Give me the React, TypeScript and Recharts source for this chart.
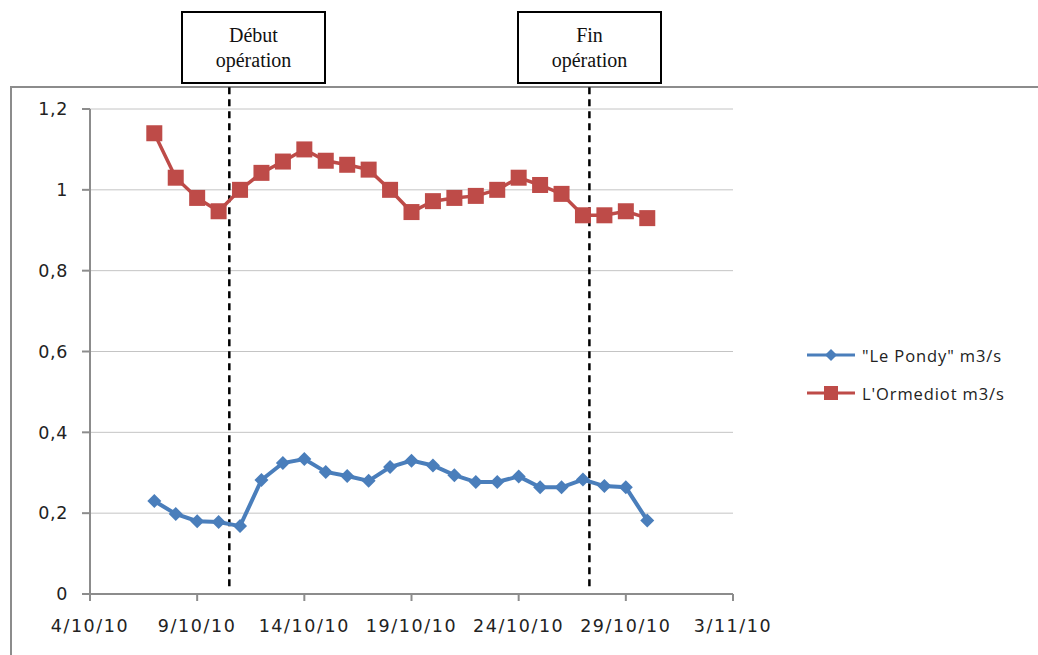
import { CartesianGrid, Line, LineChart, ReferenceLine, XAxis, YAxis } from 'recharts'

// relevés journaliers, octobre 2010
const dates = [
	'7/10/10', '8/10/10', '9/10/10', '10/10/10', '11/10/10', '12/10/10', '13/10/10', '14/10/10',
	'15/10/10', '16/10/10', '17/10/10', '18/10/10', '19/10/10', '20/10/10', '21/10/10', '22/10/10',
	'23/10/10', '24/10/10', '25/10/10', '26/10/10', '27/10/10', '28/10/10', '29/10/10', '30/10/10',
]

const pondy = [
	0.23, 0.198, 0.18, 0.178, 0.168, 0.282, 0.324, 0.334, 0.302, 0.292, 0.28, 0.314,
	0.33, 0.318, 0.294, 0.277, 0.277, 0.291, 0.264, 0.264, 0.283, 0.267, 0.264, 0.182,
]

const ormediot = [
	1.14, 1.03, 0.98, 0.947, 1.0, 1.042, 1.07, 1.1, 1.072, 1.062, 1.05, 1.0,
	0.945, 0.972, 0.98, 0.985, 1.0, 1.03, 1.012, 0.99, 0.937, 0.937, 0.947, 0.93,
]

const xTickLabels = ['4/10/10', '9/10/10', '14/10/10', '19/10/10', '24/10/10', '29/10/10', '3/11/10']
const yTicks = [0, 0.2, 0.4, 0.6, 0.8, 1, 1.2]

// jours depuis le 4/10/10 (début / fin de l'opération)
const debutOperation = 6.5
const finOperation = 23.3

const BLUE = '#4a7ebb'
const RED = '#be4b48'
const AXIS = '#8c8c8c'
const TICK_FONT = '"DejaVu Sans", Verdana, sans-serif'

const origin = Date.UTC(2010, 9, 4)
const toDay = (s: string) => {
	const [d, m, y] = s.split('/').map(Number)
	return Math.round((Date.UTC(2000 + y, m - 1, d) - origin) / 86400000)
}

const xTicks = xTickLabels.map(toDay)
const labelByDay = new Map(xTickLabels.map((l) => [toDay(l), l]))

const data = dates.map((d, i) => ({
	day: toDay(d),
	pondy: pondy[i],
	ormediot: ormediot[i],
}))

const Diamond = (props: any) => {
	const { cx, cy } = props
	if (cx == null || cy == null) return null
	const r = 7
	return <polygon points={`${cx},${cy - r} ${cx + r},${cy} ${cx},${cy + r} ${cx - r},${cy}`} fill={BLUE} />
}

const Square = (props: any) => {
	const { cx, cy } = props
	if (cx == null || cy == null) return null
	const s = 16
	return <rect x={cx - s / 2} y={cy - s / 2} width={s} height={s} fill={RED} />
}

const fmtY = (v: number) => String(Math.round(v * 10) / 10).replace('.', ',')

const legendItems = [
	{ name: '"Le Pondy" m3/s', color: BLUE, marker: 'diamond' },
	{ name: "L'Ormediot m3/s", color: RED, marker: 'square' },
]

const ChartLegend = () => (
	<div
		style={{
			position: 'absolute',
			left: 805,
			top: 336,
			fontFamily: '"Open Sans", sans-serif',
			fontSize: 16.5,
			color: '#222',
		}}
	>
		{legendItems.map((it) => (
			<div key={it.name} style={{ display: 'flex', alignItems: 'center', height: 38 }}>
				<svg width={52} height={20}>
					<line x1={2} y1={10} x2={50} y2={10} stroke={it.color} strokeWidth={3} />
					{it.marker === 'diamond' ? (
						<polygon points="26,4 32,10 26,16 20,10" fill={it.color} />
					) : (
						<rect x={19} y={3} width={14} height={14} fill={it.color} />
					)}
				</svg>
				<span style={{ marginLeft: 5, letterSpacing: 0.9 }}>{it.name}</span>
			</div>
		))}
	</div>
)

const boxStyle: React.CSSProperties = {
	position: 'absolute',
	top: 11,
	height: 69,
	border: '2px solid #000',
	background: '#fff',
	fontFamily: '"Liberation Serif", "Times New Roman", serif',
	fontSize: 20,
	lineHeight: '25px',
	textAlign: 'center',
	display: 'flex',
	flexDirection: 'column',
	justifyContent: 'center',
	color: '#111',
}

export default function App() {
	return (
		<div style={{ position: 'absolute', left: 0, top: 0, width: 1038, height: 655, background: '#fff', overflow: 'hidden' }}>
			<div
				style={{
					position: 'absolute',
					left: 10,
					top: 86,
					width: 1040,
					height: 600,
					borderLeft: `2px solid ${AXIS}`,
					borderTop: `2px solid ${AXIS}`,
				}}
			/>
			<LineChart
				width={1038}
				height={655}
				data={data}
				margin={{ top: 109, right: 305, bottom: 21, left: 10 }}
				style={{ position: 'absolute', left: 0, top: 0 }}
			>
				<CartesianGrid vertical={false} stroke="#c4c4c4" />
				<XAxis
					dataKey="day"
					type="number"
					domain={[0, 30]}
					ticks={xTicks}
					tickFormatter={(v: number) => labelByDay.get(v) ?? ''}
					height={40}
					axisLine={{ stroke: AXIS, strokeWidth: 2 }}
					tickLine={{ stroke: AXIS, strokeWidth: 2 }}
					tickSize={7}
					tickMargin={19}
					tick={{ fill: '#222', fontSize: 17.5, fontFamily: TICK_FONT, letterSpacing: 1.6 }}
					interval={0}
				/>
				<YAxis
					type="number"
					domain={[0, 1.2]}
					ticks={yTicks}
					tickFormatter={fmtY}
					width={80}
					axisLine={{ stroke: AXIS, strokeWidth: 2 }}
					tickLine={{ stroke: AXIS, strokeWidth: 2 }}
					tickSize={8}
					tickMargin={14}
					tick={{ fill: '#222', fontSize: 17.5, fontFamily: TICK_FONT, letterSpacing: 0.6 }}
					interval={0}
				/>
				<ReferenceLine
					segment={[{ x: debutOperation, y: 1.254 }, { x: debutOperation, y: 0.015 }]}
					ifOverflow="visible"
					stroke="#000"
					strokeWidth={2.5}
					strokeDasharray="7 5"
				/>
				<ReferenceLine
					segment={[{ x: finOperation, y: 1.254 }, { x: finOperation, y: 0.015 }]}
					ifOverflow="visible"
					stroke="#000"
					strokeWidth={2.5}
					strokeDasharray="7 5"
				/>
				<Line
					dataKey="pondy"
					name={'"Le Pondy" m3/s'}
					stroke={BLUE}
					strokeWidth={4}
					dot={<Diamond />}
					activeDot={false}
					isAnimationActive={false}
				/>
				<Line
					dataKey="ormediot"
					name="L'Ormediot m3/s"
					stroke={RED}
					strokeWidth={3.5}
					dot={<Square />}
					activeDot={false}
					isAnimationActive={false}
				/>
			</LineChart>
			<ChartLegend />
			<div style={{ ...boxStyle, left: 181, width: 141 }}>
				<span>Début</span>
				<span>opération</span>
			</div>
			<div style={{ ...boxStyle, left: 517, width: 141 }}>
				<span>Fin</span>
				<span>opération</span>
			</div>
		</div>
	)
}
